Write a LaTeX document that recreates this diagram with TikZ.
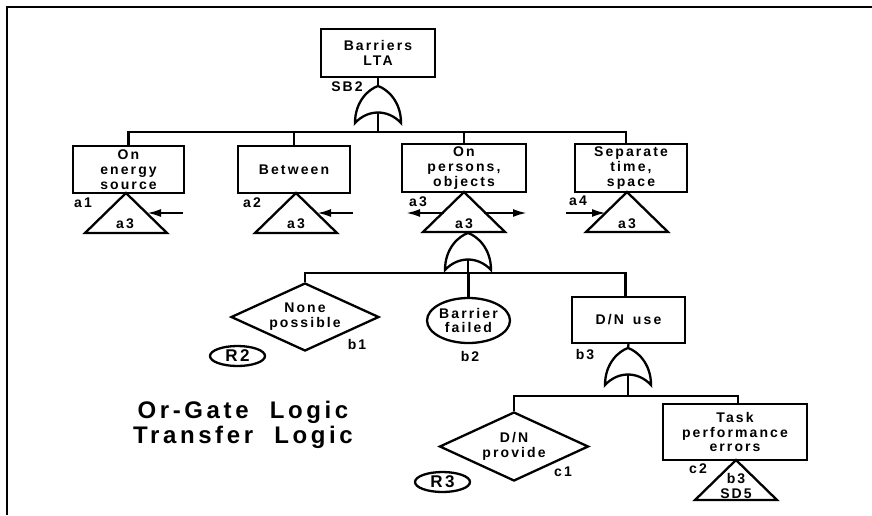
\documentclass[tikz,border=0pt]{standalone}
\usepackage{fontspec}
\setmainfont{Liberation Sans}[LetterSpace=15]
\usetikzlibrary{shapes.geometric,arrows.meta}
\newcommand\dtxt{\bfseries\fontsize{14}{14.8}\selectfont}
\newcommand\rtxt{\bfseries\fontsize{17}{18}\selectfont}
\newcommand\ttxt{\bfseries\fontsize{24}{25}\selectfont}
\tikzset{
  lw/.style={line width=2.3pt},
  box/.style={draw,lw,rectangle,inner sep=0pt,align=center,font=\dtxt},
  dia/.style={draw,lw,diamond,inner sep=0pt,aspect=2.2,align=center,font=\dtxt},
  lbl/.style={inner sep=0pt,align=center,font=\dtxt},
  ref/.style={draw,lw,ellipse,inner sep=-4pt,minimum width=55,minimum height=20,font=\rtxt},
  arr/.style={lw,-{Latex[length=14pt,width=8pt]}},
  orgate/.pic={
    \draw[lw,line join=miter] (-23,37) .. controls (-23,15) and (-9,3) .. (0,0)
      .. controls (9,3) and (23,15) .. (23,37)
      .. controls (10,23) and (-10,23) .. (-23,37) -- cycle;
    \coordinate (-in) at (0,0);
    \coordinate (-out) at (0,26.5);
  },
  xfer/.pic={
    \draw[lw,line join=miter] (0,0) -- (-41,40) -- (41,40) -- cycle;
    \coordinate (-apex) at (0,0);
    \coordinate (-base) at (0,40);
  }
}
\begin{document}
\begin{tikzpicture}[x=1pt,y=-1pt]
\useasboundingbox (0,0) rectangle (872,515);
\fill[white] (0,0) rectangle (872,515);
% frame
\coordinate (fr1) at (872,7);
\coordinate (fr0) at (7,7);
\coordinate (fr2) at (7,515);
\draw[lw] (fr1) -- (fr0) -- (fr2);

% top event
\node[box,minimum width=114,minimum height=48] (top) at (378,53) {Barriers\\LTA};
\pic (g1) at (378,86) {orgate};
\node[lbl] (sb2) at (347,87) {SB2};
\draw[lw] (top.south) -- (g1-in);

% second level
\node[box,minimum width=111,minimum height=47] (e1) at (128.5,169.5) {On\\energy\\source};
\node[box,minimum width=112,minimum height=47] (e2) at (294,169.5) {Between};
\node[box,minimum width=124,minimum height=48] (e3) at (464,168) {On\\persons,\\objects};
\node[box,minimum width=112,minimum height=48] (e4) at (631,168) {Separate\\time,\\space};
\coordinate (bus1) at (0,132);
\draw[lw] (g1-out) -- (g1-out |- bus1);
\draw[lw] (e1.north) -- (e1.north |- bus1) -- ([xshift=-5pt]e4.north |- bus1) -- ([xshift=-5pt]e4.north);
\draw[lw] (e2.north) -- (e2.north |- bus1);
\draw[lw] (e3.north) -- (e3.north |- bus1);

% transfer triangles
\pic (t1) at (126,193) {xfer};
\pic (t2) at (296,193) {xfer};
\pic (t3) at (464,192) {xfer};
\pic (t4) at (627,192) {xfer};
\node[lbl] (t1l) at (125,224) {a3};
\node[lbl] (t2l) at (296,224) {a3};
\node[lbl] (t3l) at (464,224) {a3};
\node[lbl] (t4l) at (627,224) {a3};
\node[lbl] (la1) at (83,203) {a1};
\node[lbl] (la2) at (252,203) {a2};
\node[lbl] (la3) at (418,202) {a3};
\node[lbl] (la4) at (578,201) {a4};
% transfer arrows
\coordinate (ar1s) at (183,213); \coordinate (ar1e) at (147,213);
\coordinate (ar2s) at (353,213); \coordinate (ar2e) at (317,213);
\coordinate (ar3s) at (444,213); \coordinate (ar3e) at (406,213);
\coordinate (ar4s) at (484,213); \coordinate (ar4e) at (527,213);
\coordinate (ar5s) at (566,213); \coordinate (ar5e) at (606,213);
\draw[arr] (ar1s) -- (ar1e);
\draw[arr] (ar2s) -- (ar2e);
\draw[arr] (ar3s) -- (ar3e);
\draw[arr] (ar4s) -- (ar4e);
\draw[arr] (ar5s) -- (ar5e);

% gate under a3
\pic (g2) at (468,233) {orgate};
\coordinate (bus2) at (0,273);
\node[dia,minimum width=148,minimum height=68] (d1) at (305,317) {None\\possible};
\node[draw,lw,ellipse,inner sep=-9pt,minimum width=83,minimum height=45,align=center,font=\dtxt] (b2) at (468.5,320.5) {Barrier\\failed};
\node[box,minimum width=113,minimum height=46] (dnu) at (628.5,320) {D/N\hspace{3pt} use};
\draw[lw] (g2-out) -- (g2-out |- bus2);
\draw[lw] (d1.north) -- (d1.north |- bus2) -- ([xshift=-3pt]dnu.north |- bus2) -- ([xshift=-3pt]dnu.north);
\draw[lw] (b2.north) -- (b2.north |- bus2);
\node[lbl] (lb1) at (357,344) {b1};
\node[lbl] (lb2) at (470,356) {b2};
\node[lbl] (lb3) at (585,354) {b3};
\node[ref] (r2) at (237.5,356) {R2};

% gate under D/N use
\pic (g3) at (628,348) {orgate};
\draw[lw] (dnu.south) -- (g3-in);
\coordinate (bus3) at (0,396);
\node[dia,minimum width=149,minimum height=69] (d2) at (514,446.5) {D/N\\provide};
\node[box,minimum width=144,minimum height=56] (task) at (735,432) {Task\\performance\\errors};
\draw[lw] (g3-out) -- (g3-out |- bus3);
\draw[lw] (d2.north) -- (d2.north |- bus3) -- ([xshift=3pt]task.north |- bus3) -- ([xshift=3pt]task.north);
\node[lbl] (lc1) at (563,472) {c1};
\node[lbl] (lc2) at (698,469) {c2};
\node[ref] (r3) at (442.5,482) {R3};
\pic (t5) at (736,460) {xfer};
\node[lbl] (t5l) at (736,486) {b3\\SD5};

% title
\node[inner sep=0pt,align=center,font=\ttxt] (title) at (243,424.5) {Or-Gate\hspace{11pt} Logic\\Transfer\hspace{11pt} Logic};
\end{tikzpicture}
\end{document}
